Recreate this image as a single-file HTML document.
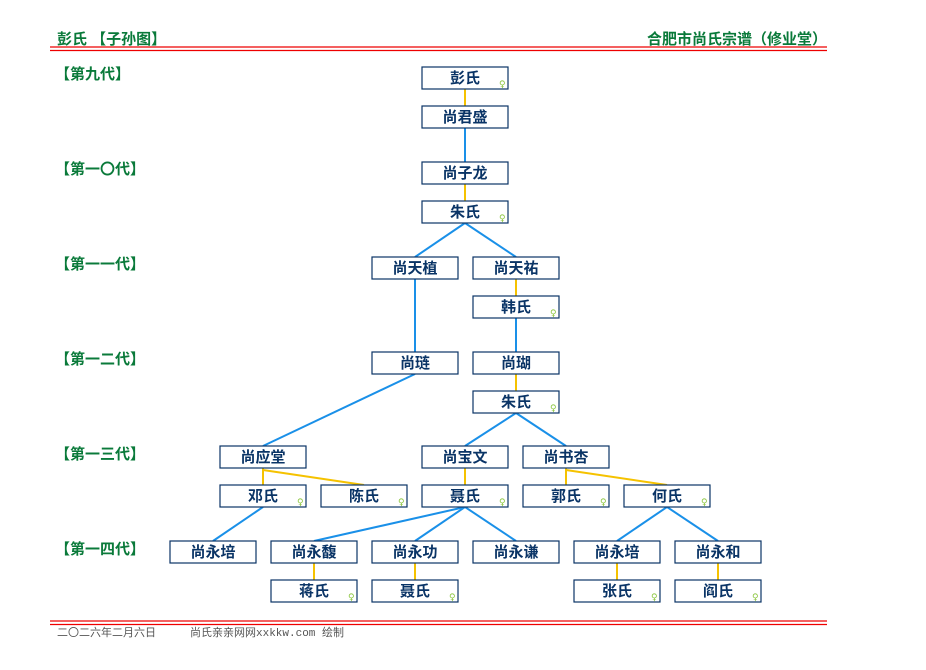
<!DOCTYPE html>
<html><head><meta charset="utf-8"><style>
html,body{margin:0;padding:0;background:#fff;width:926px;height:670px;overflow:hidden}
svg{display:block}
.b{fill:#fff;stroke:#0a3466;stroke-width:1.2}
.n{font-family:"Liberation Sans","Noto Sans CJK SC",sans-serif;font-size:15px;font-weight:bold;fill:#0a3466;text-anchor:middle}
.g{font-family:"Liberation Sans","Noto Sans CJK SC",sans-serif;font-size:15px;font-weight:bold;fill:#0a7a3a}
.f{font-family:"Liberation Mono","Noto Sans CJK SC",monospace;font-size:11px;fill:#555}
.y{stroke:#f5c200;stroke-width:2;fill:none}
.bl{stroke:#1a90e8;stroke-width:2;fill:none}
.s{font-family:"DejaVu Sans",sans-serif;font-size:9px;fill:#8cc63f}
</style></head><body>
<svg width="926" height="670" xmlns="http://www.w3.org/2000/svg">
<text class="g" x="57" y="44" font-size="15">彭氏 【子孙图】</text>
<text class="g" x="827" y="44" text-anchor="end" font-size="15">合肥市尚氏宗谱（修业堂）</text>
<line x1="50" y1="47" x2="827" y2="47" stroke="#e00" stroke-width="1.3"/>
<line x1="50" y1="50.5" x2="827" y2="50.5" stroke="#e00" stroke-width="1.3"/>
<line x1="50" y1="621" x2="827" y2="621" stroke="#e00" stroke-width="1.3"/>
<line x1="50" y1="624.5" x2="827" y2="624.5" stroke="#e00" stroke-width="1.3"/>
<text class="f" x="57" y="636" fill="#1a4a2a">二〇二六年二月六日</text>
<text class="f" x="190" y="636">尚氏亲亲网网xxkkw.com 绘制</text>

<text class="g" x="55" y="79">【第九代】</text>
<text class="g" x="55" y="174">【第一〇代】</text>
<text class="g" x="55" y="269">【第一一代】</text>
<text class="g" x="55" y="364">【第一二代】</text>
<text class="g" x="55" y="459">【第一三代】</text>
<text class="g" x="55" y="554">【第一四代】</text>

<line class="y" x1="465" y1="89" x2="465" y2="106"/>
<line class="bl" x1="465" y1="128" x2="465" y2="162"/>
<line class="y" x1="465" y1="184" x2="465" y2="201"/>
<polyline class="bl" points="415,257 465,223 516,257"/>
<line class="y" x1="516" y1="279" x2="516" y2="296"/>
<line class="bl" x1="415" y1="279" x2="415" y2="352"/>
<line class="bl" x1="516" y1="318" x2="516" y2="352"/>
<line class="y" x1="516" y1="374" x2="516" y2="391"/>
<line class="bl" x1="415" y1="374" x2="263" y2="446"/>
<polyline class="bl" points="465,446 516,413 566,446"/>
<line class="y" x1="263" y1="468" x2="263" y2="485"/>
<line class="y" x1="263" y1="470" x2="364" y2="485"/>
<line class="y" x1="465" y1="468" x2="465" y2="485"/>
<line class="y" x1="566" y1="468" x2="566" y2="485"/>
<line class="y" x1="566" y1="470" x2="667" y2="485"/>
<line class="bl" x1="263" y1="507" x2="213" y2="541"/>
<line class="bl" x1="465" y1="507" x2="314" y2="541"/>
<line class="bl" x1="465" y1="507" x2="415" y2="541"/>
<line class="bl" x1="465" y1="507" x2="516" y2="541"/>
<line class="bl" x1="667" y1="507" x2="617" y2="541"/>
<line class="bl" x1="667" y1="507" x2="718" y2="541"/>
<line class="y" x1="314" y1="563" x2="314" y2="580"/>
<line class="y" x1="415" y1="563" x2="415" y2="580"/>
<line class="y" x1="617" y1="563" x2="617" y2="580"/>
<line class="y" x1="718" y1="563" x2="718" y2="580"/>

<g>
<rect class="b" x="422" y="67" width="86" height="22"/><text class="n" x="465" y="83">彭氏</text><text class="s" x="499" y="87">♀</text>
<rect class="b" x="422" y="106" width="86" height="22"/><text class="n" x="465" y="122">尚君盛</text>
<rect class="b" x="422" y="162" width="86" height="22"/><text class="n" x="465" y="178">尚子龙</text>
<rect class="b" x="422" y="201" width="86" height="22"/><text class="n" x="465" y="217">朱氏</text><text class="s" x="499" y="221">♀</text>
<rect class="b" x="372" y="257" width="86" height="22"/><text class="n" x="415" y="273">尚天植</text>
<rect class="b" x="473" y="257" width="86" height="22"/><text class="n" x="516" y="273">尚天祐</text>
<rect class="b" x="473" y="296" width="86" height="22"/><text class="n" x="516" y="312">韩氏</text><text class="s" x="550" y="316">♀</text>
<rect class="b" x="372" y="352" width="86" height="22"/><text class="n" x="415" y="368">尚琏</text>
<rect class="b" x="473" y="352" width="86" height="22"/><text class="n" x="516" y="368">尚瑚</text>
<rect class="b" x="473" y="391" width="86" height="22"/><text class="n" x="516" y="407">朱氏</text><text class="s" x="550" y="411">♀</text>
<rect class="b" x="220" y="446" width="86" height="22"/><text class="n" x="263" y="462">尚应堂</text>
<rect class="b" x="422" y="446" width="86" height="22"/><text class="n" x="465" y="462">尚宝文</text>
<rect class="b" x="523" y="446" width="86" height="22"/><text class="n" x="566" y="462">尚书杏</text>
<rect class="b" x="220" y="485" width="86" height="22"/><text class="n" x="263" y="501">邓氏</text><text class="s" x="297" y="505">♀</text>
<rect class="b" x="321" y="485" width="86" height="22"/><text class="n" x="364" y="501">陈氏</text><text class="s" x="398" y="505">♀</text>
<rect class="b" x="422" y="485" width="86" height="22"/><text class="n" x="465" y="501">聂氏</text><text class="s" x="499" y="505">♀</text>
<rect class="b" x="523" y="485" width="86" height="22"/><text class="n" x="566" y="501">郭氏</text><text class="s" x="600" y="505">♀</text>
<rect class="b" x="624" y="485" width="86" height="22"/><text class="n" x="667" y="501">何氏</text><text class="s" x="701" y="505">♀</text>
<rect class="b" x="170" y="541" width="86" height="22"/><text class="n" x="213" y="557">尚永培</text>
<rect class="b" x="271" y="541" width="86" height="22"/><text class="n" x="314" y="557">尚永馥</text>
<rect class="b" x="372" y="541" width="86" height="22"/><text class="n" x="415" y="557">尚永功</text>
<rect class="b" x="473" y="541" width="86" height="22"/><text class="n" x="516" y="557">尚永谦</text>
<rect class="b" x="574" y="541" width="86" height="22"/><text class="n" x="617" y="557">尚永培</text>
<rect class="b" x="675" y="541" width="86" height="22"/><text class="n" x="718" y="557">尚永和</text>
<rect class="b" x="271" y="580" width="86" height="22"/><text class="n" x="314" y="596">蒋氏</text><text class="s" x="348" y="600">♀</text>
<rect class="b" x="372" y="580" width="86" height="22"/><text class="n" x="415" y="596">聂氏</text><text class="s" x="449" y="600">♀</text>
<rect class="b" x="574" y="580" width="86" height="22"/><text class="n" x="617" y="596">张氏</text><text class="s" x="651" y="600">♀</text>
<rect class="b" x="675" y="580" width="86" height="22"/><text class="n" x="718" y="596">阎氏</text><text class="s" x="752" y="600">♀</text>
</g>
</svg>
</body></html>
